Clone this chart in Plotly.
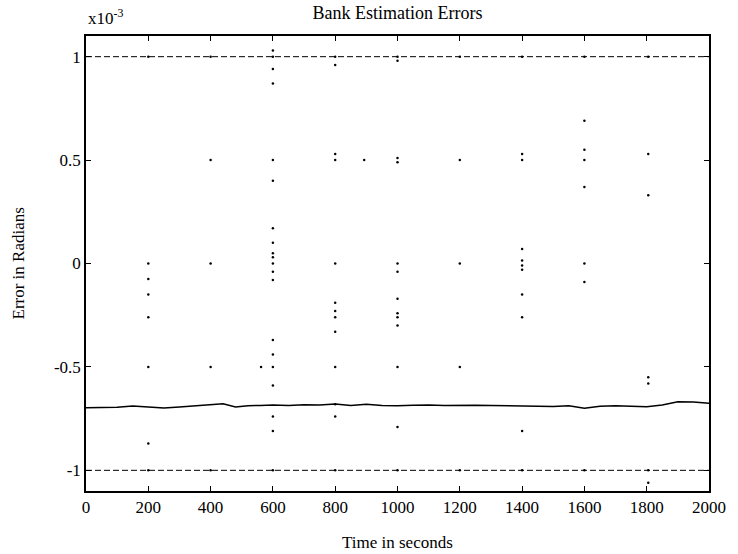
import plotly.graph_objects as go

# Values are in units of 1e-3 radians (axis multiplier shown as "x10^-3")
line_t = [0, 50, 100, 150, 200, 250, 300, 350, 400, 440, 480, 520, 560, 600, 650, 700,
          750, 800, 850, 900, 950, 1000, 1050, 1100, 1150, 1200, 1250, 1300, 1350, 1400,
          1450, 1500, 1550, 1600, 1650, 1700, 1750, 1800, 1850, 1900, 1950, 2000]
line_v = [-0.697, -0.697, -0.695, -0.689, -0.693, -0.699, -0.694, -0.687, -0.682, -0.678,
          -0.694, -0.688, -0.686, -0.684, -0.686, -0.683, -0.684, -0.679, -0.686, -0.681,
          -0.686, -0.688, -0.685, -0.684, -0.687, -0.685, -0.685, -0.686, -0.688, -0.689,
          -0.690, -0.692, -0.688, -0.700, -0.690, -0.688, -0.690, -0.693, -0.684, -0.668,
          -0.670, -0.676]

bound_t = [0, 2000]
upper_bound = [1.0, 1.0]
lower_bound = [-1.0, -1.0]

dots_200 = [1.0, 0.0, -0.075, -0.15, -0.26, -0.5, -0.87, -1.0]
dots_400 = [1.0, 0.5, 0.0, -0.5, -1.0]
dots_562 = [-0.5]
dots_600 = [1.03, 1.0, 0.94, 0.87, 0.5, 0.40, 0.17, 0.10, 0.05, 0.03, 0.0, -0.04, -0.08,
            -0.37, -0.44, -0.5, -0.59, -0.74, -0.81, -1.0]
dots_800 = [1.0, 0.96, 0.53, 0.5, 0.0, -0.19, -0.23, -0.26, -0.33, -0.5, -0.68, -0.74, -1.0]
dots_893 = [0.5]
dots_1000 = [1.0, 0.98, 0.51, 0.49, 0.0, -0.04, -0.17, -0.24, -0.26, -0.30, -0.5, -0.79, -1.0]
dots_1200 = [1.0, 0.5, 0.0, -0.5, -1.0]
dots_1400 = [1.0, 0.53, 0.5, 0.07, 0.015, -0.01, -0.03, -0.15, -0.26, -0.81, -1.0]
dots_1600 = [1.0, 0.69, 0.55, 0.5, 0.37, 0.0, -0.09, -1.0]
dots_1805 = [1.0, 0.53, 0.33, -0.55, -0.58, -1.0, -1.06]

dot_groups = {200: dots_200, 400: dots_400, 562: dots_562, 600: dots_600, 800: dots_800,
              893: dots_893, 1000: dots_1000, 1200: dots_1200, 1400: dots_1400,
              1600: dots_1600, 1805: dots_1805}

x_ticks = [0, 200, 400, 600, 800, 1000, 1200, 1400, 1600, 1800, 2000]
y_ticks = [-1, -0.5, 0, 0.5, 1]
y_tick_text = ["-1", "-0.5", "0", "0.5", "1"]

dot_t = []
dot_v = []
for t, vals in dot_groups.items():
    dot_t += [t] * len(vals)
    dot_v += vals

FONT = "Liberation Serif, Times New Roman, serif"

fig = go.Figure()
fig.add_trace(go.Scatter(x=bound_t, y=upper_bound, mode="lines",
                         line=dict(color="black", width=1, dash="6px,3px"), showlegend=False))
fig.add_trace(go.Scatter(x=bound_t, y=lower_bound, mode="lines",
                         line=dict(color="black", width=1, dash="6px,3px"), showlegend=False))
fig.add_trace(go.Scatter(x=line_t, y=line_v, mode="lines",
                         line=dict(color="black", width=1.5), showlegend=False))
fig.add_trace(go.Scatter(x=dot_t, y=dot_v, mode="markers",
                         marker=dict(color="black", size=2.5), showlegend=False))

fig.update_layout(
    width=738, height=554,
    margin=dict(l=86, r=24, t=36, b=63),
    paper_bgcolor="white", plot_bgcolor="white",
    font=dict(family=FONT, size=17, color="black"),
    title=dict(text="Bank Estimation Errors", x=0.5, xref="paper", y=1 - 13 / 554,
               yref="container", xanchor="center", yanchor="middle",
               font=dict(family=FONT, size=18, color="black")),
    showlegend=False,
)
fig.update_xaxes(range=[0, 2000], tickvals=x_ticks, ticks="inside", ticklen=5,
                 tickcolor="black", showgrid=False, zeroline=False,
                 showline=True, linecolor="black", linewidth=1.5, mirror="allticks")
fig.update_yaxes(range=[-1.1, 1.1], tickvals=y_ticks, ticktext=y_tick_text,
                 ticks="inside", ticklen=5, tickcolor="black", showgrid=False,
                 zeroline=False, showline=True, linecolor="black", linewidth=1.5,
                 mirror="allticks")

fig.add_annotation(text="x10<sup>-3</sup>", xref="paper", yref="paper", x=0, y=1,
                   xanchor="left", yanchor="bottom", yshift=6, showarrow=False,
                   font=dict(family=FONT, size=17, color="black"))
fig.add_annotation(text="Time in seconds", xref="paper", yref="paper", x=0.5, y=0,
                   xanchor="center", yanchor="middle", yshift=-51, showarrow=False,
                   font=dict(family=FONT, size=17, color="black"))
fig.add_annotation(text="Error in Radians", xref="paper", yref="paper", x=0, y=0.5,
                   xanchor="center", yanchor="middle", xshift=-68, textangle=-90,
                   showarrow=False, font=dict(family=FONT, size=17, color="black"))

fig.write_html("out.html")
